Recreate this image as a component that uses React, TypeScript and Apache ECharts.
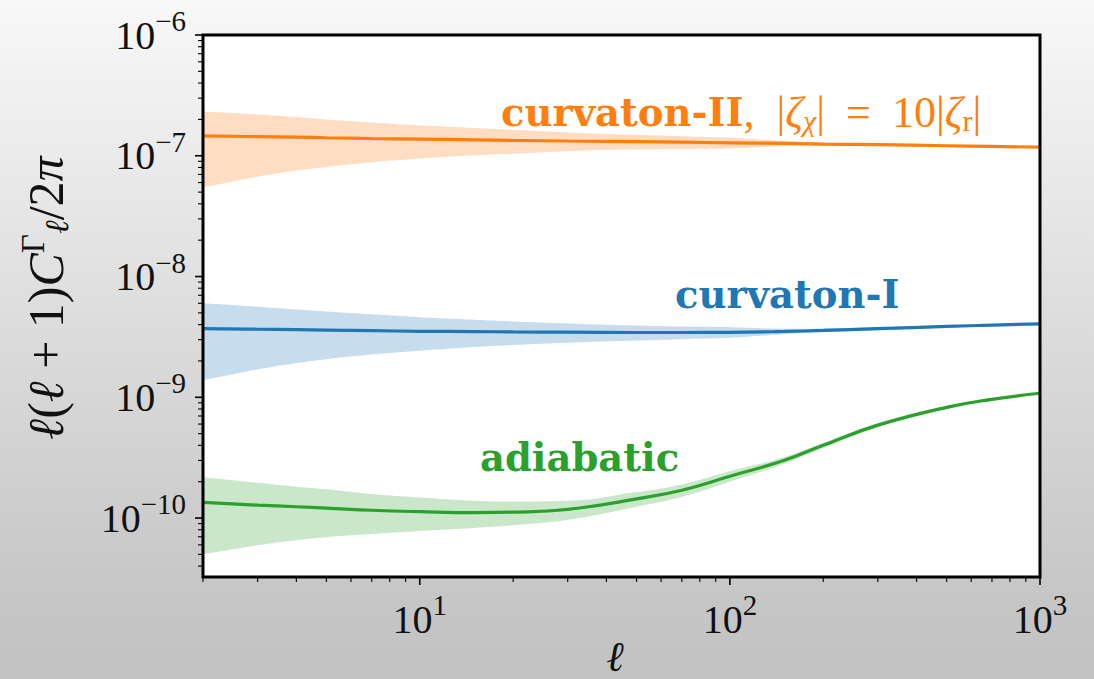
import { useEffect, useRef } from "react";
import * as echarts from "echarts";

const ells = [2, 3, 4, 5, 7, 10, 15, 20, 30, 50, 70, 100, 150, 200, 300, 500, 700, 1000];

const curvIIMid = [1.46e-7, 1.44e-7, 1.425e-7, 1.41e-7, 1.39e-7, 1.374e-7, 1.355e-7, 1.34e-7, 1.325e-7, 1.31e-7, 1.295e-7, 1.28e-7, 1.265e-7, 1.25e-7, 1.235e-7, 1.21e-7, 1.195e-7, 1.18e-7];
const curvIIUp = [2.33e-7, 2.2e-7, 2.09e-7, 2.0e-7, 1.89e-7, 1.79e-7, 1.7e-7, 1.64e-7, 1.56e-7, 1.49e-7, 1.45e-7, 1.41e-7, 1.33e-7, 1.29e-7, 1.255e-7, 1.222e-7, 1.205e-7, 1.19e-7];
const curvIILow = [5.45e-8, 6.7e-8, 7.54e-8, 8.09e-8, 8.83e-8, 9.49e-8, 1.01e-7, 1.04e-7, 1.09e-7, 1.13e-7, 1.14e-7, 1.15e-7, 1.2e-7, 1.21e-7, 1.215e-7, 1.198e-7, 1.185e-7, 1.17e-7];

const curvIMid = [3.7e-9, 3.66e-9, 3.63e-9, 3.6e-9, 3.56e-9, 3.52e-9, 3.5e-9, 3.48e-9, 3.46e-9, 3.44e-9, 3.44e-9, 3.45e-9, 3.51e-9, 3.58e-9, 3.7e-9, 3.86e-9, 3.96e-9, 4.06e-9];
const curvIUp = [6.0e-9, 5.62e-9, 5.34e-9, 5.13e-9, 4.86e-9, 4.61e-9, 4.39e-9, 4.25e-9, 4.09e-9, 3.93e-9, 3.85e-9, 3.8e-9, 3.7e-9, 3.72e-9, 3.8e-9, 3.93e-9, 4.02e-9, 4.11e-9];
const curvILow = [1.38e-9, 1.7e-9, 1.92e-9, 2.07e-9, 2.26e-9, 2.43e-9, 2.61e-9, 2.71e-9, 2.83e-9, 2.95e-9, 3.03e-9, 3.11e-9, 3.33e-9, 3.45e-9, 3.6e-9, 3.79e-9, 3.9e-9, 4.01e-9];

const adiaMid = [1.35e-10, 1.28e-10, 1.24e-10, 1.21e-10, 1.16e-10, 1.13e-10, 1.11e-10, 1.12e-10, 1.18e-10, 1.44e-10, 1.7e-10, 2.22e-10, 3.01e-10, 4.01e-10, 5.88e-10, 8.26e-10, 9.62e-10, 1.08e-9];
const adiaUp = [2.18e-10, 1.96e-10, 1.82e-10, 1.73e-10, 1.58e-10, 1.48e-10, 1.39e-10, 1.37e-10, 1.39e-10, 1.64e-10, 1.9e-10, 2.44e-10, 3.2e-10, 4.2e-10, 6.1e-10, 8.5e-10, 9.85e-10, 1.1e-9];
const adiaLow = [5.0e-11, 5.95e-11, 6.56e-11, 6.95e-11, 7.37e-11, 7.81e-11, 8.28e-11, 8.72e-11, 9.66e-11, 1.24e-10, 1.5e-10, 2.0e-10, 2.82e-10, 3.82e-10, 5.66e-10, 8.02e-10, 9.39e-10, 1.06e-9];

const xTickValues = [10, 100, 1000];
const xMinorTicks = [2, 3, 4, 5, 6, 7, 8, 9, 20, 30, 40, 50, 60, 70, 80, 90, 200, 300, 400, 500, 600, 700, 800, 900];
const yTickValues = [1e-10, 1e-9, 1e-8, 1e-7, 1e-6];
const yMinorTicks = [
  4e-11, 5e-11, 6e-11, 7e-11, 8e-11, 9e-11,
  2e-10, 3e-10, 4e-10, 5e-10, 6e-10, 7e-10, 8e-10, 9e-10,
  2e-9, 3e-9, 4e-9, 5e-9, 6e-9, 7e-9, 8e-9, 9e-9,
  2e-8, 3e-8, 4e-8, 5e-8, 6e-8, 7e-8, 8e-8, 9e-8,
  2e-7, 3e-7, 4e-7, 5e-7, 6e-7, 7e-7, 8e-7, 9e-7,
];

const X_MIN = 2;
const X_MAX = 1000;
const Y_MIN = 3.25e-11;
const Y_MAX = 1e-6;

const ORANGE = "#ff7f0e";
const BLUE = "#1f77b4";
const GREEN = "#2ca02c";
const ORANGE_BAND = "#ffdcc2";
const BLUE_BAND = "#c7dcec";
const GREEN_BAND = "#cae7ca";

const SERIF = "'Liberation Serif', 'DejaVu Serif', serif";
const BOLDSERIF = "'DejaVu Serif', 'Liberation Serif', serif";
const SMOOTH = 0.45;

function pairs(arr: number[]) {
  return ells.map((l, i) => [l, arr[i]]);
}

function edgeArea(arr: number[], fill: string) {
  return {
    type: "line",
    data: pairs(arr),
    symbol: "none",
    smooth: SMOOTH,
    lineStyle: { opacity: 0, width: 0 },
    areaStyle: { color: fill, opacity: 1, origin: "start" },
    silent: true,
    z: 1,
  };
}

function lineSeries(mid: number[], color: string) {
  return {
    type: "line",
    data: pairs(mid),
    symbol: "none",
    smooth: SMOOTH,
    lineStyle: { color, width: 3.2 },
    silent: true,
    z: 3,
  };
}

const powRich = {
  b: { fontFamily: SERIF, fontSize: 40, lineHeight: 42, color: "#111" },
  s: { fontFamily: SERIF, fontSize: 29, lineHeight: 29, padding: [0, 0, 28, 0], color: "#111" },
};

function powFormatter(v: number) {
  const e = Math.round(Math.log10(v));
  return `{b|10}{s|${e < 0 ? "\u2212" : ""}${Math.abs(e)}}`;
}

function frameAndTicks(params: any, api: any) {
  if (params.dataIndex !== 0) return null;
  const [x0, y0] = api.coord([X_MIN, Y_MIN]);
  const [x1, y1] = api.coord([X_MAX, Y_MAX]);
  const children: any[] = [];
  const tick = (xa: number, ya: number, xb: number, yb: number, w: number) =>
    children.push({
      type: "line",
      shape: { x1: xa, y1: ya, x2: xb, y2: yb },
      style: { stroke: "#000", lineWidth: w },
    });
  xTickValues.forEach((v) => {
    const x = api.coord([v, Y_MIN])[0];
    tick(x, y0, x, y0 + 8, 1.6);
  });
  xMinorTicks.forEach((v) => {
    const x = api.coord([v, Y_MIN])[0];
    tick(x, y0, x, y0 + 5, 1.1);
  });
  yTickValues.forEach((v) => {
    const y = api.coord([X_MIN, v])[1];
    tick(x0, y, x0 - 8, y, 1.6);
  });
  yMinorTicks.forEach((v) => {
    const y = api.coord([X_MIN, v])[1];
    tick(x0, y, x0 - 5, y, 1.1);
  });
  children.push({
    type: "rect",
    shape: { x: x0, y: y1, width: x1 - x0, height: y0 - y1 },
    style: { fill: "none", stroke: "#000", lineWidth: 3 },
  });
  return { type: "group", children };
}

export default function App() {
  const ref = useRef<HTMLDivElement>(null);

  useEffect(() => {
    if (!ref.current) return;
    const chart = echarts.init(ref.current, null, { renderer: "svg" });

    const option: any = {
      animation: false,
      backgroundColor: "transparent",
      grid: {
        left: 203,
        right: 54,
        top: 35,
        bottom: 102,
        show: true,
        backgroundColor: "#ffffff",
        borderWidth: 0,
      },
      xAxis: {
        type: "log",
        logBase: 10,
        min: X_MIN,
        max: X_MAX,
        axisLine: { show: false },
        splitLine: { show: false },
        axisTick: { show: false },
        axisLabel: {
          customValues: xTickValues,
          formatter: powFormatter,
          rich: powRich,
          margin: 21,
        },
      },
      yAxis: {
        type: "log",
        logBase: 10,
        min: Y_MIN,
        max: Y_MAX,
        axisLine: { show: false },
        splitLine: { show: false },
        axisTick: { show: false },
        axisLabel: {
          customValues: yTickValues,
          formatter: powFormatter,
          rich: powRich,
          margin: 17,
        },
      },
      series: [
        edgeArea(curvIIUp, ORANGE_BAND),
        edgeArea(curvIILow, "#ffffff"),
        edgeArea(curvIUp, BLUE_BAND),
        edgeArea(curvILow, "#ffffff"),
        edgeArea(adiaUp, GREEN_BAND),
        edgeArea(adiaLow, "#ffffff"),
        lineSeries(curvIIMid, ORANGE),
        lineSeries(curvIMid, BLUE),
        lineSeries(adiaMid, GREEN),
        {
          type: "custom",
          data: [[X_MIN, Y_MIN]],
          renderItem: frameAndTicks,
          clip: false,
          silent: true,
          z: 10,
        },
      ],
      graphic: [
        {
          type: "text",
          x: 46,
          y: 298,
          rotation: Math.PI / 2,
          style: {
            text: "{i|\u2113}{r|(}{i|\u2113}{r| + 1)}{i|C}{sup|\u0393}{sub|\u2113}{r|/2}{i|\u03c0}",
            textAlign: "center",
            textVerticalAlign: "middle",
            fill: "#111",
            rich: {
              r: { fontFamily: SERIF, fontSize: 50, lineHeight: 52, fill: "#111" },
              i: { fontFamily: SERIF, fontStyle: "italic", fontSize: 50, lineHeight: 52, fill: "#111" },
              sup: { fontFamily: SERIF, fontSize: 33, lineHeight: 33, padding: [0, 0, 26, 0], fill: "#111" },
              sub: { fontFamily: SERIF, fontStyle: "italic", fontSize: 33, lineHeight: 33, padding: [22, 0, 0, 0], fill: "#111" },
            },
          },
        },
        {
          type: "text",
          x: 615,
          y: 657,
          style: {
            text: "\u2113",
            fontFamily: SERIF,
            fontStyle: "italic",
            fontSize: 42,
            fill: "#111",
            textAlign: "center",
            textVerticalAlign: "middle",
          },
        },
        {
          type: "text",
          x: 501,
          y: 112,
          z: 10,
          style: {
            text: "{b|curvaton-II}{r|,  |}{i|\u03b6}{sub|\u03c7}{r||}{eq|=}{r|10|}{i|\u03b6}{subr|r}{r||}",
            textAlign: "left",
            textVerticalAlign: "middle",
            fill: ORANGE,
            rich: {
              b: { fontFamily: BOLDSERIF, fontWeight: "bold", fontSize: 38.5, lineHeight: 46, fill: ORANGE },
              r: { fontFamily: SERIF, fontSize: 44, lineHeight: 46, fill: ORANGE },
              eq: { fontFamily: SERIF, fontSize: 44, lineHeight: 46, padding: [0, 21, 0, 21], fill: ORANGE },
              i: { fontFamily: SERIF, fontStyle: "italic", fontSize: 44, lineHeight: 46, fill: ORANGE },
              sub: { fontFamily: SERIF, fontStyle: "italic", fontSize: 30, lineHeight: 30, padding: [16, 0, 0, 0], fill: ORANGE },
              subr: { fontFamily: SERIF, fontSize: 30, lineHeight: 30, padding: [16, 0, 0, 0], fill: ORANGE },
            },
          },
        },
        {
          type: "text",
          x: 675,
          y: 294,
          z: 10,
          style: {
            text: "curvaton-I",
            fontFamily: BOLDSERIF,
            fontWeight: "bold",
            fontSize: 38.5,
            fill: BLUE,
            textAlign: "left",
            textVerticalAlign: "middle",
          },
        },
        {
          type: "text",
          x: 480,
          y: 457,
          z: 10,
          style: {
            text: "adiabatic",
            fontFamily: BOLDSERIF,
            fontWeight: "bold",
            fontSize: 38.5,
            fill: GREEN,
            textAlign: "left",
            textVerticalAlign: "middle",
          },
        },
      ],
    };

    chart.setOption(option);
    return () => chart.dispose();
  }, []);

  return (
    <div
      style={{
        position: "fixed",
        left: 0,
        top: 0,
        width: 1094,
        height: 679,
        background: "linear-gradient(180deg, #f8f8f8 0%, #dedede 45%, #c6c6c6 88%, #c2c2c2 100%)",
      }}
    >
      <div ref={ref} style={{ width: 1094, height: 679 }} />
    </div>
  );
}
